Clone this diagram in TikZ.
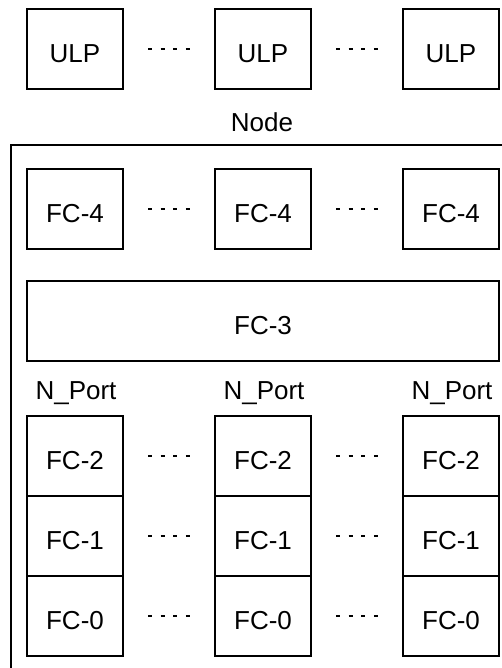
\documentclass[tikz,border=0pt]{standalone}
\usepackage{fontspec}
\setmainfont{Liberation Sans}
\begin{document}
\begin{tikzpicture}[x=1pt,y=-1pt,
  box/.style={draw,line width=2pt,minimum width=96pt,minimum height=80pt,inner sep=0pt,outer sep=0pt,text height=27pt,text depth=0pt,font=\fontsize{26}{30}\selectfont},
  wide/.style={box,minimum width=472pt},
  dots/.style={line width=2pt,dash pattern=on 4pt off 8.6pt},
  lbl/.style={inner sep=0pt,font=\fontsize{26}{30}\selectfont}]
\useasboundingbox (0,0) rectangle (502,668);
\clip (0,0) rectangle (502,668);
% ULPs
\node[box] (ulpa) at (75,49) {ULP};
\node[box] (ulpb) at (263,49) {ULP};
\node[box] (ulpc) at (451,49) {ULP};
\draw[dots] ([xshift=25pt]ulpa.east) -- ([xshift=-25pt]ulpb.west);
\draw[dots] ([xshift=25pt]ulpb.east) -- ([xshift=-25pt]ulpc.west);
% Node frame
\node[lbl] (nodelbl) at (262,122) {Node};
\draw[line width=2pt] (11,145) rectangle (560,720);
% FC-4
\node[box] (fcfoura) at (75,209) {FC-4};
\node[box] (fcfourb) at (263,209) {FC-4};
\node[box] (fcfourc) at (451,209) {FC-4};
\draw[dots] ([xshift=25pt]fcfoura.east) -- ([xshift=-25pt]fcfourb.west);
\draw[dots] ([xshift=25pt]fcfourb.east) -- ([xshift=-25pt]fcfourc.west);
% FC-3
\node[wide] (fcthree) at (263,321) {FC-3};
% N_Ports
\node[lbl] (npa) at (76,393) {N\_Port};
\node[lbl] (npb) at (264,393) {N\_Port};
\node[lbl] (npc) at (452,393) {N\_Port};
\foreach \c/\x in {a/75,b/263,c/451}{
  \node[box] (fctwo\c) at (\x,456) {FC-2};
  \node[box] (fcone\c) at (\x,536) {FC-1};
  \node[box] (fczero\c) at (\x,616) {FC-0};
}
\foreach \r in {fctwo,fcone,fczero}{
  \draw[dots] ([xshift=25pt]\r a.east) -- ([xshift=-25pt]\r b.west);
  \draw[dots] ([xshift=25pt]\r b.east) -- ([xshift=-25pt]\r c.west);
}
\end{tikzpicture}
\end{document}
